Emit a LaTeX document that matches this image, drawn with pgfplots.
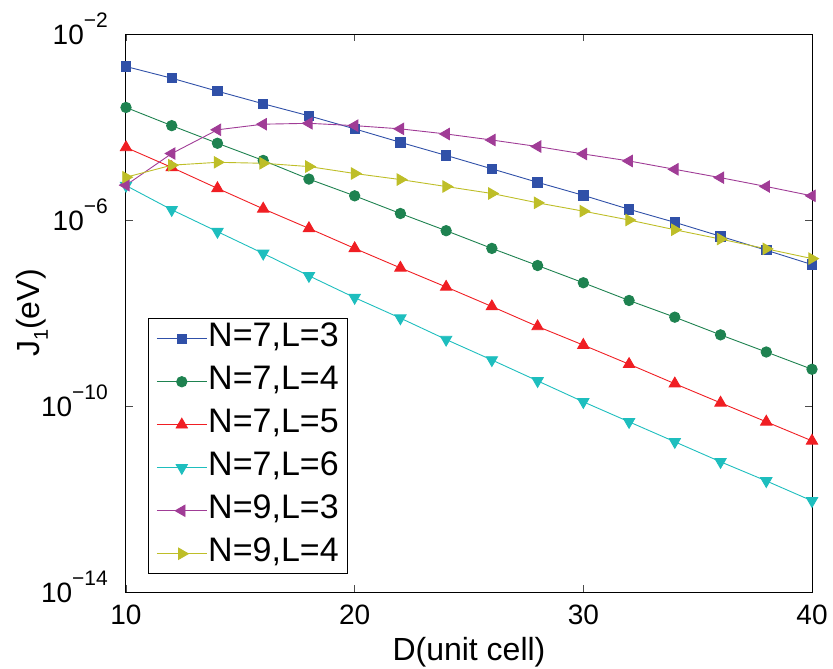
\documentclass[border=0pt]{standalone}
\usepackage{fontspec}
\setmainfont{Liberation Sans}
\usepackage{pgfplots}
\pgfplotsset{compat=1.18}

\definecolor{cblue}{RGB}{48,80,168}
\definecolor{cgreen}{RGB}{30,130,80}
\definecolor{cred}{RGB}{240,30,35}
\definecolor{ccyan}{RGB}{30,190,190}
\definecolor{cmag}{RGB}{160,60,150}
\definecolor{cyel}{RGB}{190,190,40}

\newcommand{\ex}[1]{10\raisebox{0.6em}{\fontsize{21}{21}\selectfont #1}}

\begin{document}
\begin{tikzpicture}
\begin{axis}[
  width=686pt, height=558pt, scale only axis,
  xmin=10, xmax=40, ymin=1e-14, ymax=1e-2, ymode=log,
  xtick={10,20,30,40}, xticklabels={10,20,30,40},
  ytick={1e-14,1e-10,1e-6,1e-2},
  yticklabels={\ex{−14},\ex{−10},\ex{−6},\ex{−2}},
  yminorticks=false,
  tick align=inside, major tick length=7pt,
  axis line style={line width=1pt},
  every tick/.style={black!70, line width=0.8pt},
  ticklabel style={font=\fontsize{28}{32}\selectfont, inner sep=0pt},
  yticklabel style={anchor=base east, xshift=-18pt, yshift=-10pt},
  xticklabel style={anchor=north, yshift=-13pt},
  label style={font=\fontsize{32}{36}\selectfont, inner sep=0pt},
  xlabel={D(unit cell)},
  xlabel style={at={(axis description cs:0.5,-0.1219)}, anchor=base},
  ylabel={J\raisebox{-0.25em}{\fontsize{20}{20}\selectfont 1}(eV)},
  ylabel style={at={(axis description cs:-0.1254,0.5)}, anchor=base},
  every axis plot/.append style={line width=0.9pt},
  legend style={at={(0.032,0.032)}, anchor=south west, draw=black, line width=0.8pt,
    fill=white, font=\fontsize{34}{38}\selectfont, inner xsep=8pt, inner ysep=3pt,
    row sep=9pt, nodes={text height=24pt, text depth=8pt, inner sep=1pt}},
  legend cell align=left,
  legend image code/.code={\draw[mark repeat=2, mark phase=2] plot coordinates {(0pt,0pt) (25pt,0pt) (50pt,0pt)};},
]
\addplot[cblue, mark=square*, mark size=4.7pt] coordinates {
(10,2.00e-3) (12,1.12e-3) (14,5.89e-4) (16,3.16e-4) (18,1.74e-4) (20,9.12e-5) (22,4.68e-5) (24,2.45e-5)
(26,1.26e-5) (28,6.46e-6) (30,3.39e-6) (32,1.70e-6) (34,8.91e-7) (36,4.47e-7) (38,2.24e-7) (40,1.10e-7)};
\addplot[cgreen, mark=*, mark size=5.2pt] coordinates {
(10,2.63e-4) (12,1.07e-4) (14,4.47e-5) (16,1.91e-5) (18,7.59e-6) (20,3.31e-6) (22,1.38e-6) (24,5.89e-7)
(26,2.45e-7) (28,1.05e-7) (30,4.47e-8) (32,1.86e-8) (34,8.13e-9) (36,3.39e-9) (38,1.45e-9) (40,6.17e-10)};
\addplot[cred, mark=triangle*, mark size=6.5pt] coordinates {
(10,3.63e-5) (12,1.35e-5) (14,4.79e-6) (16,1.74e-6) (18,6.61e-7) (20,2.45e-7) (22,9.33e-8) (24,3.63e-8)
(26,1.38e-8) (28,5.13e-9) (30,2.04e-9) (32,7.94e-10) (34,3.02e-10) (36,1.17e-10) (38,4.57e-11) (40,1.78e-11)};
\addplot[ccyan, mark=triangle*, mark size=6.5pt, mark options={rotate=180}] coordinates {
(10,5.50e-6) (12,1.66e-6) (14,5.62e-7) (16,1.91e-7) (18,6.31e-8) (20,2.14e-8) (22,7.76e-9) (24,2.69e-9)
(26,9.77e-10) (28,3.47e-10) (30,1.23e-10) (32,4.57e-11) (34,1.70e-11) (36,6.31e-12) (38,2.45e-12) (40,9.12e-13)};
\addplot[cmag, mark=triangle*, mark size=6.5pt, mark options={rotate=90}] coordinates {
(10,5.62e-6) (12,2.69e-5) (14,8.71e-5) (16,1.15e-4) (18,1.20e-4) (20,1.07e-4) (22,9.12e-5) (24,7.08e-5)
(26,5.25e-5) (28,3.80e-5) (30,2.63e-5) (32,1.86e-5) (34,1.23e-5) (36,8.13e-6) (38,5.25e-6) (40,3.31e-6)};
\addplot[cyel, mark=triangle*, mark size=6.5pt, mark options={rotate=-90}] coordinates {
(10,8.32e-6) (12,1.51e-5) (14,1.74e-5) (16,1.66e-5) (18,1.41e-5) (20,1.00e-5) (22,7.41e-6) (24,5.25e-6)
(26,3.72e-6) (28,2.34e-6) (30,1.55e-6) (32,1.00e-6) (34,6.17e-7) (36,3.89e-7) (38,2.40e-7) (40,1.48e-7)};
\legend{{N=7,L=3},{N=7,L=4},{N=7,L=5},{N=7,L=6},{N=9,L=3},{N=9,L=4}}
\end{axis}
\path ([xshift=-126pt,yshift=-77pt]current axis.south west) rectangle ([xshift=21pt,yshift=34pt]current axis.north east);
\end{tikzpicture}
\end{document}
